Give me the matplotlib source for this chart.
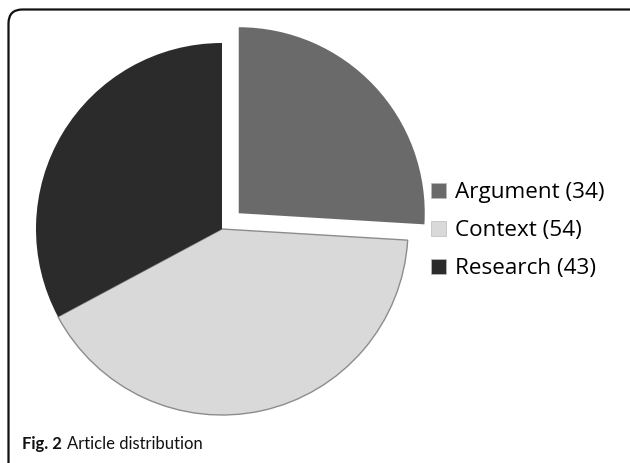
import matplotlib
matplotlib.use("Agg")
import matplotlib.pyplot as plt
from matplotlib.patches import FancyBboxPatch

categories = ["Argument", "Context", "Research"]
counts = [34, 54, 43]
colors = ["#6a6a6a", "#d9d9d9", "#2b2b2b"]
explode_px = [23, 0, 0]

W, H = 630, 463
fig = plt.figure(figsize=(W / 100, H / 100), dpi=100)
fig.patch.set_facecolor("white")
ax = fig.add_axes([0, 0, 1, 1])
ax.set_xlim(0, W)
ax.set_ylim(0, H)
ax.set_aspect("equal")
ax.axis("off")

# rounded frame
frame = FancyBboxPatch((8.5, -20), 640, H - 9.5 + 20,
                       boxstyle="round,pad=0,rounding_size=14",
                       linewidth=1.6, edgecolor="#111111", facecolor="none")
ax.add_patch(frame)

labels = [f"{c} ({n})" for c, n in zip(categories, counts)]
wedges, _ = ax.pie(counts, colors=colors, startangle=90, counterclock=False,
                   explode=explode_px, center=(222, H - 229), radius=186,
                   frame=True)
ax.set_xlim(0, W)
ax.set_ylim(0, H)
ax.axis("off")
wedges[1].set_edgecolor("#8c8c8c")
wedges[1].set_linewidth(1.0)
for i in (0, 2):
    wedges[i].set_edgecolor("none")

leg = ax.legend(wedges, labels, loc="upper left", bbox_to_anchor=(420 / W, 1 - 171 / H),
                frameon=False, handlelength=0.64, handleheight=0.64, handletextpad=0.4,
                labelspacing=0.76, borderpad=0,
                prop={"family": "Open Sans", "size": 16.2})
for h in leg.legend_handles:
    h.set_edgecolor("#bbbbbb")
    h.set_linewidth(0.5)

cap_fam = ["Lato"]
t1 = fig.text(22 / W, 1 - 444 / H, "Fig. 2", fontfamily=cap_fam, fontweight="bold",
              fontsize=12, va="center", ha="left", color="#111111")
fig.canvas.draw()
bb = t1.get_window_extent(renderer=fig.canvas.get_renderer())
fig.text((bb.x1 + 5) / W, 1 - 444 / H, "Article distribution", fontfamily=cap_fam,
         fontsize=12, va="center", ha="left", color="#111111")

fig.savefig("out.png", dpi=100, facecolor="white")
